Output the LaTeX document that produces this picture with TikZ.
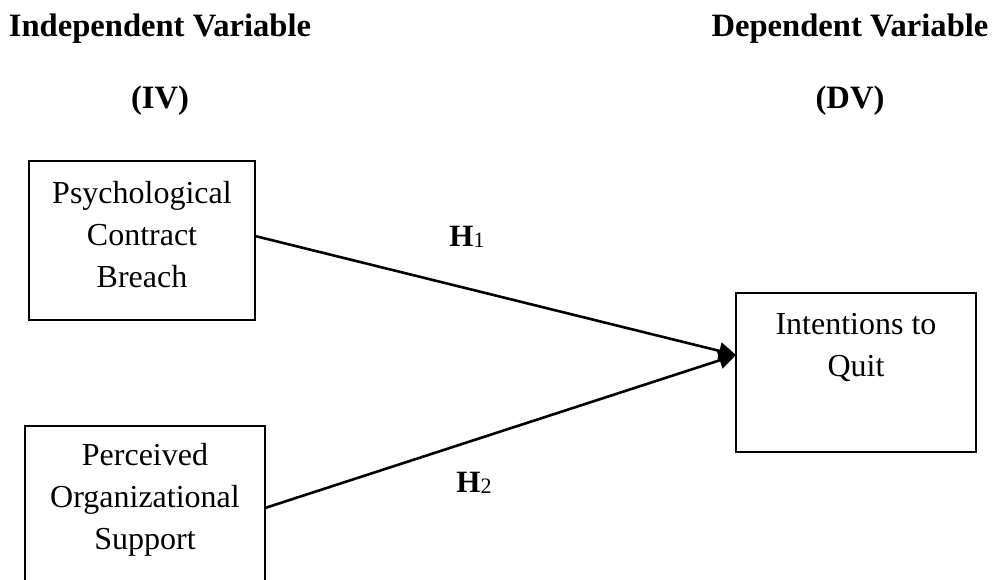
\documentclass[tikz,border=0pt]{standalone}
\usepackage{fontspec}
\setmainfont{Liberation Serif}
\usetikzlibrary{arrows.meta}
\begin{document}
\begin{tikzpicture}[x=1pt,y=-1pt,
  box/.style={draw,line width=2pt,rectangle,inner sep=0pt},
  boxtext/.style={align=center,font=\fontsize{32}{42}\selectfont,inner sep=0pt},
  title/.style={font=\fontsize{32.6}{36}\selectfont\bfseries,inner sep=0pt},
  hyp/.style={font=\fontsize{31}{32}\selectfont\bfseries,inner sep=0pt},
  link/.style={line width=2.6pt,-{Triangle[length=17pt,width=17pt]}}]
\useasboundingbox (0,0) rectangle (998,579);
\clip (0,0) rectangle (998,579);
% titles
\node[title] (ivt) at (160,29) {Independent Variable};
\node[title] (iv) at (160,101) {(IV)};
\node[title] (dvt) at (850,29) {Dependent Variable};
\node[title] (dv) at (850,101) {(DV)};
% boxes
\draw[line width=2pt] (29,161) rectangle (255,320);
\coordinate (b1) at (255,236);
\node[boxtext] (t1) at (142,235) {Psychological\\Contract\\Breach};
\draw[line width=2pt] (25,426) rectangle (265,620);
\coordinate (b2) at (265,508);
\node[boxtext] (t2) at (145,500) {Perceived\\Organizational\\Support};
\draw[line width=2pt] (736,293) rectangle (976,452);
\coordinate (b3) at (736,355);
\node[boxtext] (t3) at (856,347) {Intentions to\\Quit};
% links
\draw[link] (b1) -- (b3);
\draw[link] (b2) -- (b3);
\node[hyp] (h1) at (467,237) {H\raisebox{-1pt}{\fontsize{22}{22}\selectfont\mdseries 1}};
\node[hyp] (h2) at (474,483) {H\raisebox{-1pt}{\fontsize{22}{22}\selectfont\mdseries 2}};
\end{tikzpicture}
\end{document}
